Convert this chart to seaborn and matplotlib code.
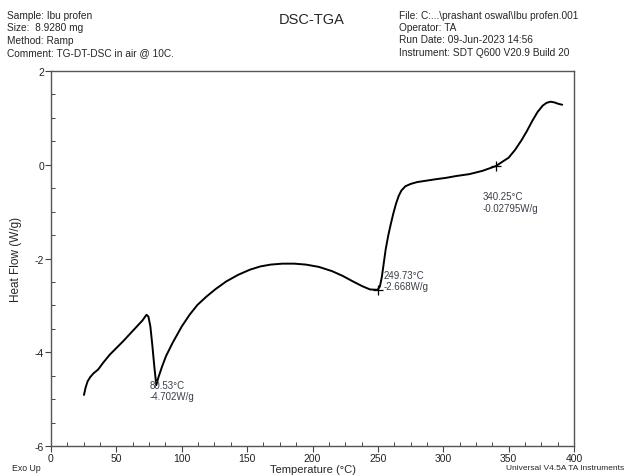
import matplotlib
matplotlib.use("Agg")
import matplotlib.pyplot as plt
from matplotlib.ticker import MultipleLocator
import seaborn as sns
import pandas as pd

# DSC heat-flow trace of ibuprofen, 10 °C/min ramp in air
temperature_c = [
    25.2, 26.5, 28.0, 30.0, 32.5, 36.0, 40.0, 45.0, 50.0, 55.0, 60.0, 65.0, 70.0,
    73.0, 74.5, 76.0, 77.5, 79.0, 80.53, 82.0, 85.0, 88.0, 93.0, 100.0, 106.0,
    112.0, 119.0, 126.0, 134.0, 143.0, 152.0, 160.0, 168.0, 177.0, 186.0, 195.0,
    205.0, 215.0, 223.0, 231.0, 238.0, 244.0, 249.73, 251.5, 253.0, 254.5, 256.0,
    258.0, 260.0, 262.0, 264.0, 266.0, 268.0, 271.0, 275.0, 280.0, 287.0, 294.0,
    302.0, 310.0, 320.0, 330.0, 340.25, 345.0, 350.0, 355.0, 360.0, 364.0, 368.0,
    372.0, 376.0, 379.0, 382.0, 385.0, 388.0, 391.0,
]
heat_flow_wg = [
    -4.91, -4.75, -4.62, -4.53, -4.45, -4.37, -4.22, -4.05, -3.91, -3.77, -3.62,
    -3.47, -3.32, -3.20, -3.24, -3.45, -3.85, -4.30, -4.702, -4.55, -4.30, -4.08,
    -3.80, -3.45, -3.20, -2.99, -2.81, -2.65, -2.49, -2.35, -2.24, -2.17, -2.13,
    -2.11, -2.11, -2.13, -2.18, -2.27, -2.37, -2.49, -2.59, -2.66, -2.668, -2.60,
    -2.40, -2.10, -1.80, -1.50, -1.25, -1.02, -0.82, -0.66, -0.55, -0.46, -0.41,
    -0.37, -0.34, -0.31, -0.28, -0.24, -0.20, -0.13, -0.028, 0.06, 0.15, 0.32,
    0.53, 0.72, 0.93, 1.12, 1.26, 1.32, 1.345, 1.33, 1.30, 1.28,
]

# Labelled peak / onset points
marked_temp = [80.53, 249.73, 340.25]
marked_flow = [-4.702, -2.668, -0.02795]
marked_text = ["80.53°C\n-4.702W/g", "249.73°C\n-2.668W/g", "340.25°C\n-0.02795W/g"]
text_dx = [-5.0, 5.0, -10.0]
text_top = [-4.59, -2.24, -0.57]

header_left = ["Sample: Ibu profen", "Size:  8.9280 mg", "Method: Ramp",
               "Comment: TG-DT-DSC in air @ 10C."]
header_right = ["File: C:...\\prashant oswal\\Ibu profen.001", "Operator: TA",
                "Run Date: 09-Jun-2023 14:56", "Instrument: SDT Q600 V20.9 Build 20"]

sns.set_theme(style="white")
plt.rcParams["font.family"] = ["Liberation Sans", "DejaVu Sans"]
plt.rcParams["axes.unicode_minus"] = False

fig = plt.figure(figsize=(6.27, 4.77), dpi=100)
ax = fig.add_axes([51 / 627, 1 - 447 / 477, 523 / 627, 375 / 477])

df = pd.DataFrame({"T": temperature_c, "HF": heat_flow_wg})
sns.lineplot(data=df, x="T", y="HF", sort=False, estimator=None,
             color="black", linewidth=1.4, ax=ax)

ax.plot(marked_temp[1:], marked_flow[1:], linestyle="none", marker="+",
        markersize=7, markeredgewidth=0.9, color="black")
for t, f, s, dx, top in zip(marked_temp, marked_flow, marked_text, text_dx, text_top):
    ax.text(t + dx, top, s, ha="left", va="top", fontsize=7, color="#3a3f4a",
            linespacing=1.15)

ax.set_xlim(0, 400)
ax.set_ylim(-6, 2)
ax.xaxis.set_major_locator(MultipleLocator(50))
ax.xaxis.set_minor_locator(MultipleLocator(12.5))
ax.yaxis.set_major_locator(MultipleLocator(2))
ax.yaxis.set_minor_locator(MultipleLocator(0.5))
ax.tick_params(which="major", direction="out", length=4, width=0.8, color="#444444",
               labelsize=7.5, pad=1.0, left=True, bottom=True, labelcolor="#222222")
ax.tick_params(which="minor", direction="in", length=3, width=0.7, color="#444444",
               left=True, bottom=True)
for sp in ax.spines.values():
    sp.set_color("#555555")
    sp.set_linewidth(1.0)

ax.set_xlabel("Temperature (°C)", fontsize=8.0)
ax.set_ylabel("Heat Flow (W/g)", fontsize=8.5)
ax.xaxis.set_label_coords((313 - 51) / 523, -(470 - 447) / 375)
ax.yaxis.set_label_coords((16 - 51) / 523, 0.5)
ax.xaxis.label.set_va("center")
ax.yaxis.label.set_va("center")

for i, line in enumerate(header_left):
    fig.text(7 / 627, 1 - (16 + 12.3 * i) / 477, line, ha="left", va="center",
             fontsize=7.3)
for i, line in enumerate(header_right):
    fig.text(399 / 627, 1 - (16 + 12.2 * i) / 477, line, ha="left", va="center",
             fontsize=7.3)
fig.text(312 / 627, 1 - 20 / 477, "DSC-TGA", ha="center", va="center", fontsize=10.5)
fig.text(12 / 627, 1 - 469 / 477, "Exo Up", ha="left", va="center", fontsize=6.3)
fig.text(624 / 627, 1 - 469 / 477, "Universal V4.5A TA Instruments", ha="right",
         va="center", fontsize=6.0)

fig.savefig("out.png", dpi=100)
